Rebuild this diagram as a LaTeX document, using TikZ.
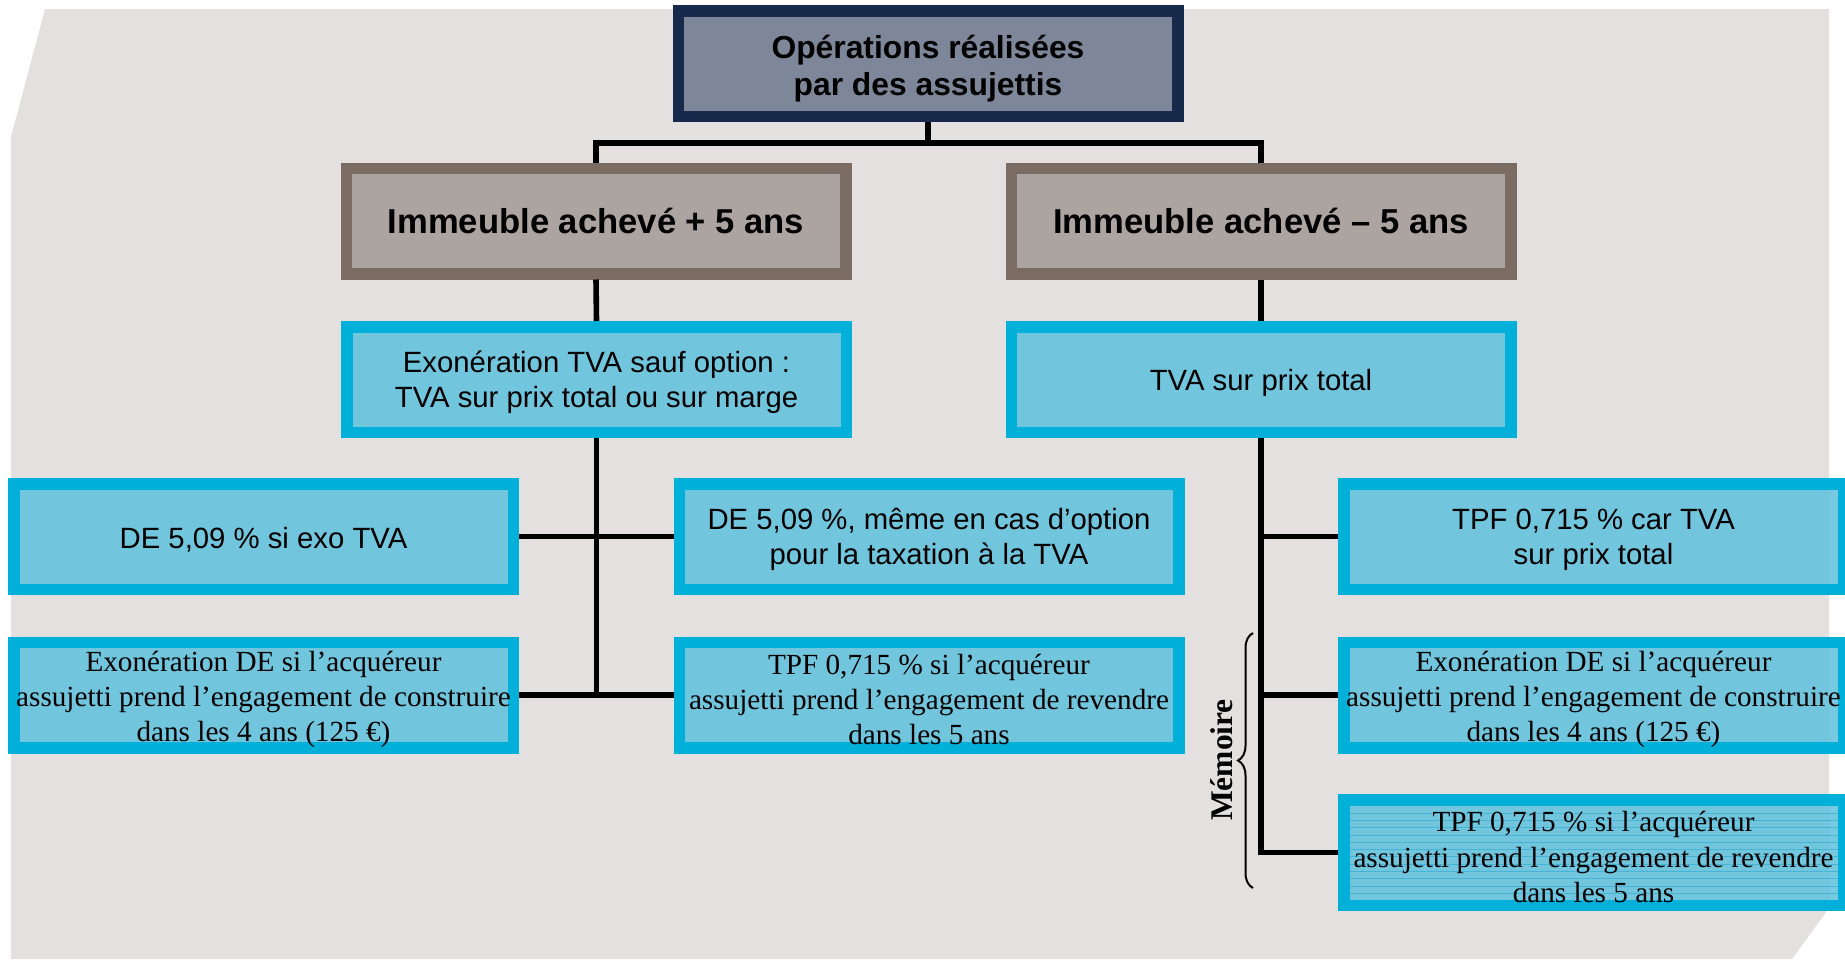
\documentclass[tikz,border=0pt]{standalone}
\usepackage{fontspec}
\setmainfont{Liberation Serif}
\newfontfamily\arialf{Liberation Sans}
\usetikzlibrary{decorations.pathreplacing}
\definecolor{bgc}{RGB}{228,224,223}
\definecolor{navyb}{RGB}{22,41,74}
\definecolor{topf}{RGB}{125,135,153}
\definecolor{brownb}{RGB}{123,108,99}
\definecolor{brownf}{RGB}{172,164,160}
\definecolor{cyanb}{RGB}{0,176,216}
\definecolor{cyanf}{RGB}{98,194,221}
\definecolor{stripec}{RGB}{60,176,214}
\tikzset{
  base/.style={rectangle, line width=11.5pt, outer sep=5.75pt, inner sep=0pt,
    minimum width=499.5pt, minimum height=105.5pt},
  topbox/.style={base, draw=navyb, fill=topf},
  graybox/.style={base, draw=brownb, fill=brownf},
  cyanbox/.style={base, draw=cyanb, fill=cyanf, fill opacity=0.88, draw opacity=1},
  stripedbox/.style={cyanbox, path picture={
      \foreach \k in {0,...,12}
        \draw[stripec, line width=0.8pt, draw opacity=0.8]
          ([yshift=-6-\k*7.3]path picture bounding box.north west) --
          ([yshift=-6-\k*7.3]path picture bounding box.north east);}},
  txt/.style={inner sep=0pt, align=center},
  toptxt/.style={txt, font=\arialf\bfseries\fontsize{31.8}{36.5}\selectfont},
  graytxt/.style={txt, font=\arialf\bfseries\fontsize{34.6}{40}\selectfont},
  sanstxt/.style={txt, font=\arialf\fontsize{29.3}{35.3}\selectfont},
  seriftxt/.style={txt, font=\fontsize{29.2}{35.3}\selectfont},
  conn/.style={line width=5.6pt, black},
  bracestyle/.style={decorate, decoration={brace, amplitude=15pt}, line width=2pt, black},
}
\begin{document}
\begin{tikzpicture}[x=1pt,y=-1pt]
\useasboundingbox (0,0) rectangle (1845,959);
% background
\fill[bgc] (45,9) -- (1829,9) -- (1829,908) -- (1792,959) -- (11,959) -- (11,137) -- cycle;

% boxes
\node[topbox] (top) at (928,63.5) {};
\node[graybox] (L1) at (596,221) {};
\node[graybox] (L2) at (1261,221) {};
\node[cyanbox] (exo) at (596.5,379.5) {};
\node[cyanbox] (tva) at (1261,379.5) {};
\node[cyanbox] (de1) at (263.5,536.5) {};
\node[cyanbox] (de2) at (929,536.5) {};
\node[cyanbox] (r1) at (1593.5,536.5) {};
\node[cyanbox] (ex1) at (263.5,695) {};
\node[cyanbox] (tpf1) at (929,695) {};
\node[cyanbox] (r2) at (1593.5,695) {};
\node[stripedbox] (r3) at (1593.5,852.5) {};

% texts
\node[toptxt] (topt) at ([yshift=-5pt]top.center) {Opérations réalisées\\par des assujettis};
\node[graytxt] (L1t) at (L1.center) {Immeuble achevé + 5 ans};
\node[graytxt] (L2t) at (L2.center) {Immeuble achevé – 5 ans};
\node[sanstxt] (exot) at ([yshift=-3pt]exo.center) {Exonération TVA sauf option :\\TVA sur prix total ou sur marge};
\node[sanstxt] (tvat) at ([yshift=-3pt]tva.center) {TVA sur prix total};
\node[sanstxt] (de1t) at ([yshift=-3pt]de1.center) {DE 5,09 \% si exo TVA};
\node[sanstxt] (de2t) at ([yshift=-3pt]de2.center) {DE 5,09 \%, même en cas d’option\\pour la taxation à la TVA};
\node[sanstxt] (r1t) at ([yshift=-3.5pt]r1.center) {TPF 0,715 \% car TVA\\sur prix total};
\node[seriftxt] (ex1t) at ([yshift=-4.5pt]ex1.center) {Exonération DE si l’acquéreur\\assujetti prend l’engagement de construire\\dans les 4 ans (125 €)};
\node[seriftxt] (tpf1t) at ([yshift=-4.5pt]tpf1.center) {TPF 0,715 \% si l’acquéreur\\assujetti prend l’engagement de revendre\\dans les 5 ans};
\node[seriftxt] (r2t) at ([yshift=-4.5pt]r2.center) {Exonération DE si l’acquéreur\\assujetti prend l’engagement de construire\\dans les 4 ans (125 €)};
\node[seriftxt] (r3t) at ([yshift=-4.5pt]r3.center) {TPF 0,715 \% si l’acquéreur\\assujetti prend l’engagement de revendre\\dans les 5 ans};

% connectors
\coordinate (j) at (928,143);
\draw[conn] (top.south) -- (j);
\draw[conn] (L1.north) |- (j) -| (L2.north);
\draw[conn] (L1.south) -- (exo.north);
\draw[conn] (L2.south) -- (tva.north);
\draw[conn] (exo.south) -- (exo.south |- ex1.east);
\draw[conn] (de1.east) -- (de2.west);
\draw[conn] (ex1.east) -- (tpf1.west);
\draw[conn] (tva.south) |- (r3.west);
\draw[conn] (tva.south |- r1.west) -- (r1.west);
\draw[conn] (tva.south |- r2.west) -- (r2.west);

% memo brace
\coordinate (bb) at (1253,888);
\coordinate (bt) at (1253,633);
\draw[bracestyle] (bb) -- (bt);
\node[rotate=90, font=\bfseries\fontsize{31.5}{36}\selectfont] (memo) at (1222,760) {Mémoire};
\end{tikzpicture}
\end{document}
